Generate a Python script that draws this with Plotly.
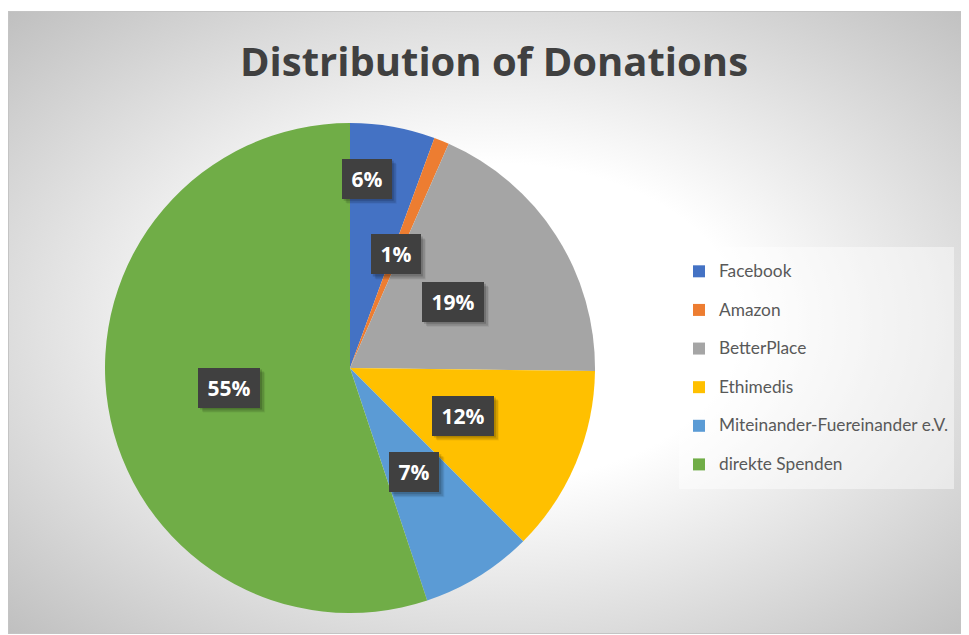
import math
import base64
import plotly.graph_objects as go

# ---- data ----
labels = ["Facebook", "Amazon", "BetterPlace", "Ethimedis",
          "Miteinander-Fuereinander e.V.", "direkte Spenden"]
values = [5.6, 1.0, 18.6, 12.3, 7.4, 55.1]
colors = ["#4472C4", "#ED7D31", "#A5A5A5", "#FFC000", "#5B9BD5", "#70AD47"]
title_text = "Distribution of Donations"

# label placement (fraction of radius, fraction along slice)
label_rf = [0.775, 0.5, 0.5, 0.5, 0.5, 0.5]
label_af = [0.25, 0.5, 0.5, 0.5, 0.5, 0.5]

W, H = 961, 627
CX, CY, R = 342, 360, 245  # pie centre / radius in px

# ---- background (radial gradient panel) ----
svg = f'''<svg xmlns="http://www.w3.org/2000/svg" width="{W}" height="{H}" viewBox="0 0 {W} {H}">
<defs><radialGradient id="g" cx="50%" cy="50%" r="71%">
<stop offset="0.36" stop-color="#ffffff"/>
<stop offset="1" stop-color="#bfbfbf"/>
</radialGradient></defs>
<rect x="0" y="0" width="{W}" height="{H}" fill="#ffffff"/>
<rect x="0.5" y="3.5" width="{W+10}" height="622" fill="url(#g)" stroke="#c4c4c4" stroke-width="1"/>
</svg>'''
bg_src = "data:image/svg+xml;base64," + base64.b64encode(svg.encode()).decode()

legend_labels = [f"<span style='font-size:17.3px;baseline-shift:5px'>{l}</span>" for l in labels]

fig = go.Figure(go.Pie(
    labels=legend_labels,
    values=values,
    marker=dict(colors=colors, line=dict(width=0)),
    sort=False,
    direction="clockwise",
    rotation=0,
    textinfo="none",
    hoverinfo="skip",
    domain=dict(x=[(CX - R) / W, (CX + R) / W],
                y=[1 - (CY + R) / H, 1 - (CY - R) / H]),
))

# ---- data labels ----
total = sum(values)
annotations = []
shapes = []
cum = 0.0
PAD, TH = 8, 24
for v, rf, af in zip(values, label_rf, label_af):
    frac = v / total
    ang = 2 * math.pi * (cum + af * frac)
    cum += frac
    px = CX + rf * R * math.sin(ang)
    py = CY - rf * R * math.cos(ang)
    txt = f"{round(frac * 100)}%"
    w = 12 * len(txt) + 10
    bw, bh = w + 2 * PAD, TH + 2 * PAD
    ax, ay = px / W, 1 - py / H
    for off, alpha in ((2, 0.16), (4, 0.12), (5, 0.06)):
        shapes.append(dict(type="rect", xref="paper", yref="paper",
                           xsizemode="pixel", ysizemode="pixel",
                           xanchor=ax, yanchor=ay,
                           x0=-bw / 2 + off, x1=bw / 2 + off,
                           y0=-bh / 2 - off, y1=bh / 2 - off,
                           fillcolor=f"rgba(0,0,0,{alpha})", line=dict(width=0),
                           layer="above"))
    annotations.append(dict(x=ax, y=ay, xref="paper", yref="paper",
                            xanchor="center", yanchor="middle",
                            showarrow=False, text=f"<b>{txt}</b>",
                            width=w, height=TH, borderpad=PAD, borderwidth=0,
                            bgcolor="#404040",
                            font=dict(family="Open Sans", size=21, color="#ffffff")))

fig.update_layout(
    width=W, height=H,
    margin=dict(l=0, r=0, t=0, b=0),
    paper_bgcolor="#ffffff",
    images=[dict(source=bg_src, xref="paper", yref="paper", x=0, y=1,
                 sizex=1, sizey=1, sizing="stretch", layer="below",
                 xanchor="left", yanchor="top")],
    title=dict(text=f"<b>{title_text}</b>", x=486 / W, xanchor="center",
               y=1 - 54 / H, yanchor="middle", xref="container", yref="container",
               font=dict(family="Open Sans", size=40, color="#404040")),
    showlegend=True,
    legend=dict(x=671 / W, xanchor="left", y=1 - 239 / H, yanchor="top",
                bgcolor="rgba(255,255,255,0.45)", borderwidth=0,
                font=dict(family="Lato", size=27.4, color="#595959"),
                traceorder="normal"),
    shapes=shapes,
    annotations=annotations,
)

fig.write_html("out.html")
